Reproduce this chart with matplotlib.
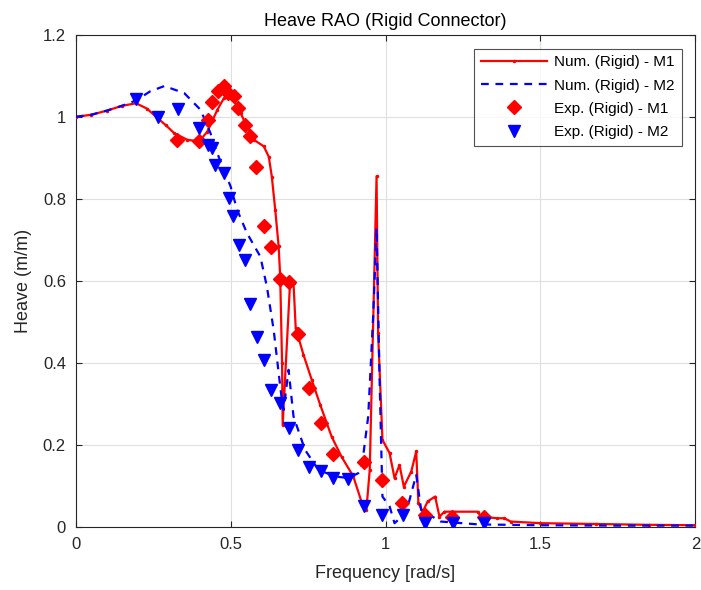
import matplotlib.pyplot as plt
from matplotlib.ticker import FuncFormatter

# numeric model, M1 (red solid with small dots)
num_m1_freq = [0.0, 0.05, 0.1, 0.15, 0.195, 0.23, 0.264, 0.29, 0.318, 0.36, 0.398,
               0.425, 0.457, 0.478, 0.49, 0.51, 0.532, 0.553, 0.575, 0.607, 0.623,
               0.633, 0.644, 0.655, 0.66, 0.666, 0.668, 0.692, 0.703, 0.71, 0.735,
               0.762, 0.789, 0.826, 0.858, 0.896, 0.922, 0.938, 0.949, 0.971, 0.976,
               0.99, 1.013, 1.029, 1.045, 1.059, 1.083, 1.099, 1.106, 1.12, 1.136,
               1.16, 1.174, 1.19, 1.222, 1.297, 1.308, 1.361, 1.383, 1.404, 1.5,
               1.68, 1.85, 2.0]
num_m1_heave = [1.0, 1.005, 1.015, 1.027, 1.033, 1.02, 0.997, 0.98, 0.96, 0.944, 0.94,
                0.964, 1.017, 1.045, 1.05, 1.041, 1.009, 0.976, 0.944, 0.928, 0.903,
                0.854, 0.773, 0.684, 0.61, 0.40, 0.249, 0.598, 0.594, 0.485, 0.42,
                0.358, 0.298, 0.22, 0.171, 0.123, 0.062, 0.041, 0.139, 0.855, 0.472,
                0.212, 0.18, 0.119, 0.151, 0.098, 0.135, 0.184, 0.058, 0.037, 0.062,
                0.074, 0.025, 0.037, 0.037, 0.037, 0.025, 0.021, 0.021, 0.013, 0.009,
                0.007, 0.005, 0.004]

# numeric model, M2 (blue dashed)
num_m2_freq = [0.0, 0.05, 0.1, 0.15, 0.195, 0.24, 0.286, 0.35, 0.403, 0.435, 0.457,
               0.478, 0.5, 0.521, 0.553, 0.596, 0.617, 0.639, 0.655, 0.664, 0.671,
               0.687, 0.703, 0.74, 0.783, 0.837, 0.88, 0.912, 0.922, 0.944, 0.96,
               0.971, 0.981, 0.99, 1.013, 1.029, 1.045, 1.07, 1.099, 1.115, 1.178,
               1.3, 1.5, 1.75, 2.0]
num_m2_heave = [1.0, 1.005, 1.015, 1.027, 1.04, 1.062, 1.075, 1.058, 1.017, 0.96, 0.911,
                0.871, 0.83, 0.773, 0.716, 0.659, 0.586, 0.48, 0.375, 0.318, 0.285,
                0.383, 0.269, 0.188, 0.139, 0.123, 0.119, 0.131, 0.139, 0.269, 0.513,
                0.729, 0.351, 0.074, 0.05, 0.009, 0.02, 0.045, 0.127, 0.041, 0.013,
                0.006, 0.004, 0.003, 0.003]

# experiment, M1 (red diamonds)
exp_m1_freq = [0.328, 0.398, 0.428, 0.439, 0.459, 0.478, 0.491, 0.51, 0.524, 0.546,
               0.564, 0.583, 0.609, 0.631, 0.658, 0.687, 0.717, 0.754, 0.792, 0.831,
               0.93, 0.989, 1.054, 1.128, 1.215, 1.318]
exp_m1_heave = [0.944, 0.94, 0.993, 1.037, 1.062, 1.074, 1.058, 1.05, 1.021, 0.98,
                0.954, 0.877, 0.734, 0.682, 0.604, 0.598, 0.471, 0.338, 0.253, 0.178,
                0.159, 0.115, 0.059, 0.029, 0.025, 0.025]

# experiment, M2 (blue triangles)
exp_m2_freq = [0.195, 0.264, 0.33, 0.398, 0.428, 0.441, 0.451, 0.478, 0.494, 0.508,
               0.526, 0.546, 0.564, 0.585, 0.607, 0.631, 0.658, 0.687, 0.719, 0.754,
               0.792, 0.831, 0.88, 0.93, 0.988, 1.056, 1.128, 1.217, 1.318]
exp_m2_heave = [1.043, 1.0, 1.019, 0.972, 0.932, 0.923, 0.883, 0.863, 0.802, 0.757,
                0.688, 0.65, 0.544, 0.464, 0.407, 0.334, 0.303, 0.241, 0.188, 0.147,
                0.137, 0.12, 0.116, 0.051, 0.029, 0.029, 0.009, 0.009, 0.009]

plt.rcParams['font.family'] = ['Liberation Sans', 'DejaVu Sans']

fig = plt.figure(figsize=(7.01, 5.9), dpi=100)
ax = fig.add_axes([0.108, 0.107, 0.884, 0.834])

ax.plot(num_m1_freq, num_m1_heave, '-', color='red', lw=1.6, marker='.', ms=3,
        label='Num. (Rigid) - M1', zorder=3)
ax.plot(num_m2_freq, num_m2_heave, '--', color='blue', lw=1.6, dashes=(3.5, 3),
        label='Num. (Rigid) - M2', zorder=3)
ax.plot(exp_m1_freq, exp_m1_heave, 'D', color='red', ms=7, ls='none',
        label='Exp. (Rigid) - M1', zorder=4)
ax.plot(exp_m2_freq, exp_m2_heave, 'v', color='blue', ms=8.5, ls='none',
        label='Exp. (Rigid) - M2', zorder=4)

ax.set_xlim(0, 2)
ax.set_ylim(0, 1.2)
ax.set_xticks([0, 0.5, 1, 1.5, 2])
ax.set_yticks([0, 0.2, 0.4, 0.6, 0.8, 1, 1.2])
fmt = FuncFormatter(lambda v, p: f"{v:g}")
ax.xaxis.set_major_formatter(fmt)
ax.yaxis.set_major_formatter(fmt)
ax.tick_params(direction='in', labelsize=12, length=4, top=True, right=True,
               colors='#262626', pad=7)
ax.grid(True, color='#dfdfdf', lw=0.8)
ax.set_axisbelow(True)
for s in ax.spines.values():
    s.set_color('#262626')
    s.set_linewidth(0.8)

ax.set_title('Heave RAO (Rigid Connector)', fontsize=13, color='black', pad=6)
ax.set_xlabel('Frequency [rad/s]', fontsize=13, color='#262626', labelpad=10)
ax.set_ylabel('Heave (m/m)', fontsize=13, color='#262626', labelpad=8)

leg = ax.legend(loc='upper right', fontsize=11, frameon=True, fancybox=False,
                edgecolor='#262626', borderaxespad=0.9, handlelength=4.3,
                labelspacing=0.6, borderpad=0.45, handletextpad=0.5)
leg.get_frame().set_linewidth(0.8)

fig.savefig('out.png', dpi=100)
